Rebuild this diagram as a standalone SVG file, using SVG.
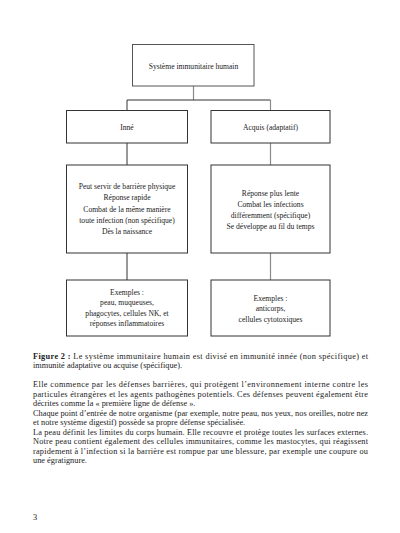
<svg xmlns="http://www.w3.org/2000/svg" width="400" height="533" viewBox="0 0 400 533">
<style>
.box{fill:#fff;stroke:#333;stroke-width:1}
.bt{font-family:"Liberation Serif","Times New Roman",serif;font-size:7.6px;fill:#222;text-anchor:middle}
.body{font-family:"Liberation Serif","Times New Roman",serif;font-size:8.3px;fill:#222}
.dk{stroke:#333;stroke-width:1;fill:none}
.gr{stroke:#8a8a8a;stroke-width:1.2;fill:none}
</style>
<rect width="400" height="533" fill="#fff"/>
<g id="connectors">
<line class="gr" x1="193.5" y1="86" x2="193.5" y2="100"/>
<line class="dk" x1="127" y1="100" x2="270.5" y2="100"/>
<line class="dk" x1="127" y1="100" x2="127" y2="110"/>
<line class="gr" x1="270.5" y1="100" x2="270.5" y2="110"/>
<line class="dk" x1="127" y1="143" x2="127" y2="165"/>
<line class="gr" x1="270.5" y1="143" x2="270.5" y2="165"/>
<line class="dk" x1="127" y1="253" x2="127" y2="280"/>
<line class="gr" x1="270.5" y1="253" x2="270.5" y2="280"/>
</g>
<g id="root">
<rect class="box" x="132.5" y="44.5" width="121.5" height="41.5" style="stroke:#555"/>
<text class="bt" x="193.5" y="68.5">Système immunitaire humain</text>
</g>
<g id="inne">
<rect class="box" x="66.5" y="110.5" width="121" height="32.5"/>
<text class="bt" x="127" y="129.5">Inné</text>
</g>
<g id="acquis">
<rect class="box" x="211" y="110.5" width="119" height="32.5"/>
<text class="bt" x="270.5" y="129.5">Acquis (adaptatif)</text>
</g>
<g id="inne-desc">
<rect class="box" x="66.5" y="165" width="121" height="88"/>
<text class="bt" x="127" y="189">Peut servir de barrière physique</text>
<text class="bt" x="127" y="200.3">Réponse rapide</text>
<text class="bt" x="127" y="211.6">Combat de la même manière</text>
<text class="bt" x="127" y="222.9">toute infection (non spécifique)</text>
<text class="bt" x="127" y="234.2">Dès la naissance</text>
</g>
<g id="acquis-desc">
<rect class="box" x="211" y="165" width="119" height="88"/>
<text class="bt" x="270.5" y="195.5">Réponse plus lente</text>
<text class="bt" x="270.5" y="206.8">Combat les infections</text>
<text class="bt" x="270.5" y="218.1">différemment (spécifique)</text>
<text class="bt" x="270.5" y="229.4">Se développe au fil du temps</text>
</g>
<g id="inne-ex">
<rect class="box" x="66.5" y="280" width="121" height="56"/>
<text class="bt" x="127" y="295">Exemples :</text>
<text class="bt" x="127" y="305.3">peau, muqueuses,</text>
<text class="bt" x="127" y="315.6">phagocytes, cellules NK, et</text>
<text class="bt" x="127" y="325.9">réponses inflammatoires</text>
</g>
<g id="acquis-ex">
<rect class="box" x="211" y="280" width="119" height="56"/>
<text class="bt" x="270.5" y="300.5">Exemples :</text>
<text class="bt" x="270.5" y="311.3">anticorps,</text>
<text class="bt" x="270.5" y="322.1">cellules cytotoxiques</text>
</g>
<g id="caption">
<text class="body" x="33" y="358.5" textLength="335" lengthAdjust="spacing"><tspan font-weight="bold">Figure 2 :</tspan> Le système immunitaire humain est divisé en immunité innée (non spécifique) et</text>
<text class="body" x="33" y="368">immunité adaptative ou acquise (spécifique).</text>
</g>
<g id="body-text">
<text class="body" x="33" y="387" textLength="335" lengthAdjust="spacing">Elle commence par les défenses barrières, qui protègent l’environnement interne contre les</text>
<text class="body" x="33" y="396.5" textLength="335" lengthAdjust="spacing">particules étrangères et les agents pathogènes potentiels. Ces défenses peuvent également être</text>
<text class="body" x="33" y="406">décrites comme la « première ligne de défense ».</text>
<text class="body" x="33" y="415.5" textLength="335" lengthAdjust="spacing">Chaque point d’entrée de notre organisme (par exemple, notre peau, nos yeux, nos oreilles, notre nez</text>
<text class="body" x="33" y="425">et notre système digestif) possède sa propre défense spécialisée.</text>
<text class="body" x="33" y="434.5" textLength="335" lengthAdjust="spacing">La peau définit les limites du corps humain. Elle recouvre et protège toutes les surfaces externes.</text>
<text class="body" x="33" y="444" textLength="335" lengthAdjust="spacing">Notre peau contient également des cellules immunitaires, comme les mastocytes, qui réagissent</text>
<text class="body" x="33" y="453.5" textLength="335" lengthAdjust="spacing">rapidement à l’infection si la barrière est rompue par une blessure, par exemple une coupure ou</text>
<text class="body" x="33" y="463">une égratignure.</text>
<text class="body" x="33" y="520">3</text>
</g>
</svg>
